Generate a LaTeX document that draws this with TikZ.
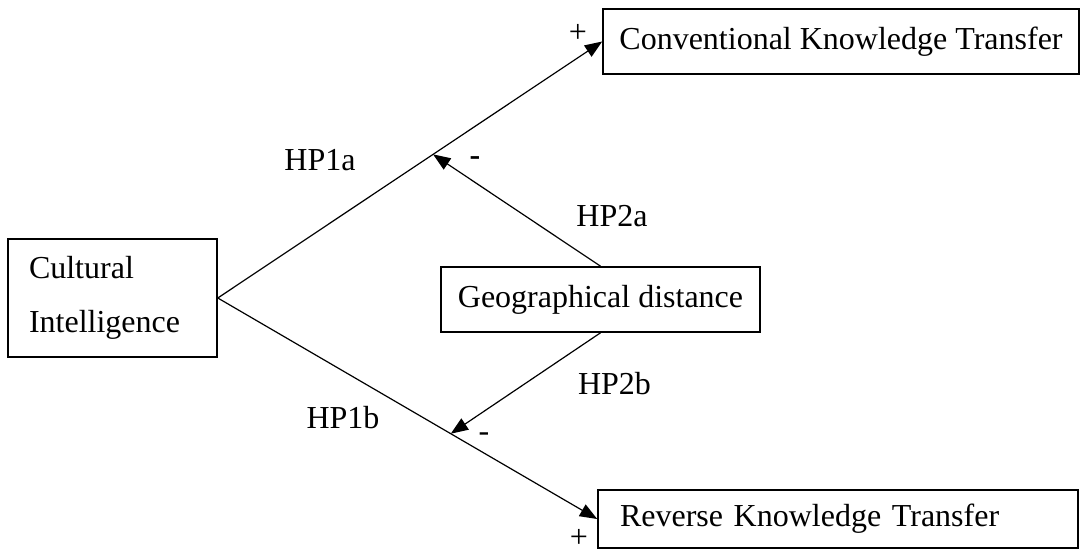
\documentclass[tikz,border=0pt]{standalone}
\usepackage{fontspec}
\setmainfont{Liberation Serif}
\usetikzlibrary{arrows.meta,calc}
\begin{document}
\begin{tikzpicture}[x=0.75pt,y=-0.75pt,
  every node/.style={font=\fontsize{24}{29}\selectfont},
  box/.style={draw, line width=1.2pt, inner sep=0pt},
  conn/.style={line width=0.9pt, -{Triangle[length=13pt,width=10pt]}},
  lbl/.style={inner sep=0pt}
]
\useasboundingbox (0,0) rectangle (1080,549);
\node[box, minimum width=357pt, minimum height=48.75pt] (ckt) at (841,41.5) {Conventional Knowledge Transfer};
\node[box, minimum width=360pt, minimum height=43.5pt, inner xsep=16.5pt, text width=327pt, align=left] (rkt) at (838,519) {Reverse Knowledge Transfer};
\node[box, minimum width=239.25pt, minimum height=48.75pt] (geo) at (600.5,299.5) {Geographical distance};
\node[box, minimum width=156.75pt, minimum height=88.5pt, inner xsep=15.75pt, text width=125.25pt, align=left, font=\fontsize{24}{40.5}\selectfont] (ci) at (112.5,298) {Cultural\\Intelligence};

\draw[conn] (ci.east) -- coordinate[pos=0.56] (m1) (ckt.west);
\draw[conn] (ci.east) -- coordinate[pos=0.614] (m2) (rkt.west);
\draw[conn] (geo.north) -- (m1);
\draw[conn] (geo.south) -- (m2);

\node[lbl] (p1) at (578,33) {+};
\node[lbl] (p2) at (579,538) {+};
\node[lbl, font=\fontsize{24}{29}\selectfont\bfseries] (n1) at (475,161) {-};
\node[lbl] (n2) at (484,437) {-};
\node[lbl] (h1a) at (320,160) {HP1a};
\node[lbl] (h2a) at (612,216) {HP2a};
\node[lbl] (h2b) at (614.5,384) {HP2b};
\node[lbl] (h1b) at (343,418) {HP1b};
\end{tikzpicture}
\end{document}
